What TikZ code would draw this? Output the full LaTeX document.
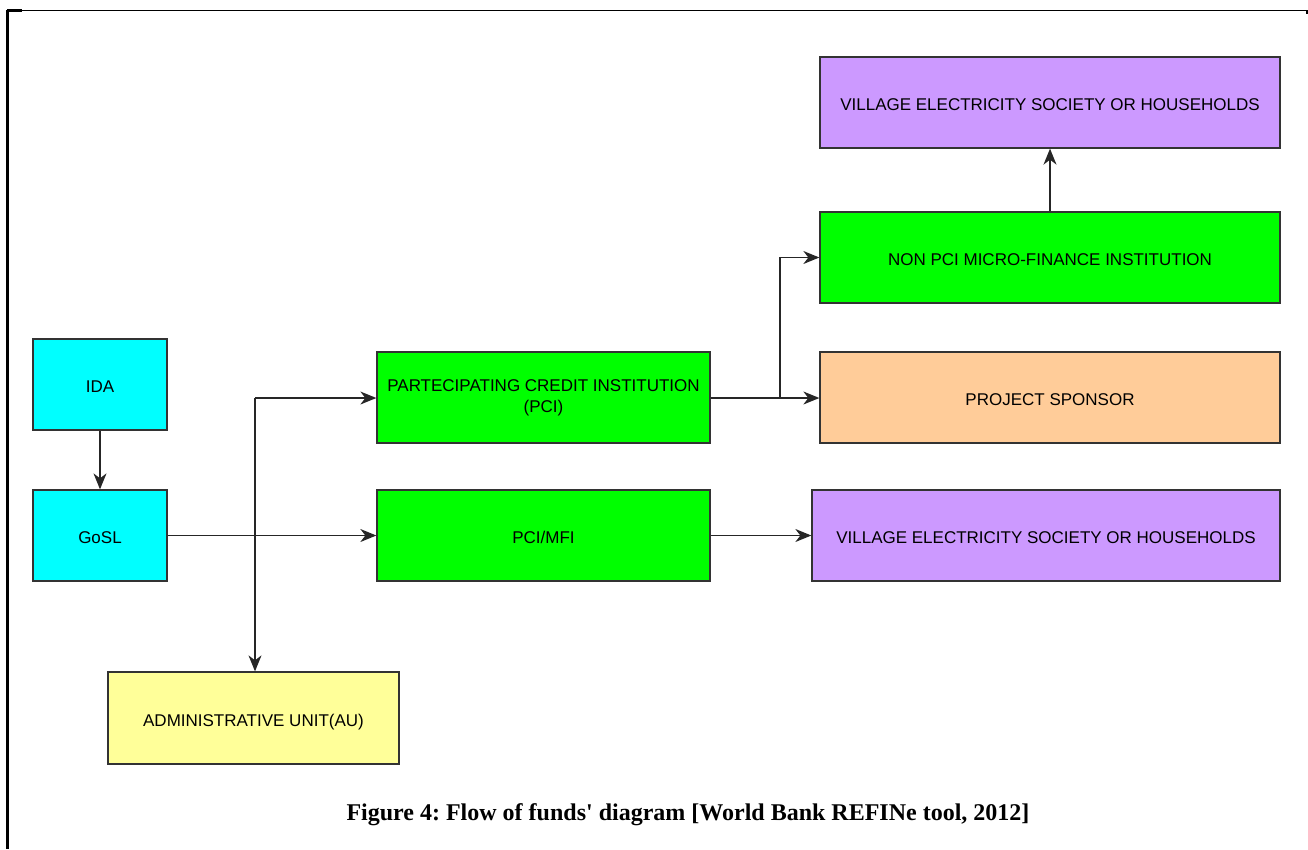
\documentclass[tikz,border=0pt]{standalone}
\usepackage{fontspec}
\setmainfont{Liberation Sans}
\newfontfamily\capfont{Liberation Serif}
\usetikzlibrary{arrows.meta}
\definecolor{cyanbox}{HTML}{00FFFF}
\definecolor{greenbox}{HTML}{00FF00}
\definecolor{purplebox}{HTML}{CC99FF}
\definecolor{peachbox}{HTML}{FFCC99}
\definecolor{yellowbox}{HTML}{FFFF99}
\definecolor{edge}{HTML}{333333}
\begin{document}
\begin{tikzpicture}[x=1pt,y=-1pt,
  box/.style={draw=edge, line width=1.3pt, minimum height=91pt, inner sep=2pt,
    align=center, font=\fontsize{17}{21}\selectfont, text=black, text height=16pt, text depth=0pt},
  conn/.style={draw=black!85, line width=1.4pt, -{Stealth[length=16pt,width=13pt,inset=5pt]}}]
\useasboundingbox (0,0) rectangle (1308,849);
% frame
\draw[line width=1.2pt] (7,10.5) -- (1307,10.5) -- (1307,14);
\draw[line width=2.2pt] (7.5,10) -- (7.5,849);
\draw[line width=2.5pt] (7,10.5) -- (22,10.5);
% boxes
\node[box, fill=cyanbox, minimum width=134pt] (ida) at (100,384.5) {IDA};
\node[box, fill=cyanbox, minimum width=134pt] (gosl) at (100,535.5) {GoSL};
\node[box, fill=greenbox, minimum width=333pt, text height=, text depth=] (pci) at (543.5,397.5) {PARTECIPATING CREDIT INSTITUTION\\(PCI)};
\node[box, fill=greenbox, minimum width=333pt] (mfi) at (543.5,535.5) {PCI/MFI};
\node[box, fill=yellowbox, minimum width=291pt, minimum height=92pt] (au) at (253.5,718) {ADMINISTRATIVE UNIT(AU)};
\node[box, fill=purplebox, minimum width=460pt] (vestop) at (1050,102.5) {VILLAGE ELECTRICITY SOCIETY OR HOUSEHOLDS};
\node[box, fill=greenbox, minimum width=460pt] (nonpci) at (1050,257.5) {NON PCI MICRO-FINANCE INSTITUTION};
\node[box, fill=peachbox, minimum width=460pt] (ps) at (1050,397.5) {PROJECT SPONSOR};
\node[box, fill=purplebox, minimum width=468pt] (vesbot) at (1046,535.5) {VILLAGE ELECTRICITY SOCIETY OR HOUSEHOLDS};
% junctions
\coordinate (j1) at (255,398);
\coordinate (j2) at (780,398);
% connectors
\draw[conn] (ida) -- (gosl);
\draw[conn] (gosl) -- (mfi);
\draw[conn] (j1) -- (j1 |- au.north);
\draw[conn] (j1) -- (j1 -| pci.west);
\draw[conn] (pci.east |- j2) -- (j2 -| ps.west);
\draw[conn] (j2) |- (nonpci.west);
\draw[conn] (nonpci) -- (vestop);
\draw[conn] (mfi) -- (vesbot);
% caption
\node[font=\capfont\bfseries\fontsize{24}{28}\selectfont] (cap) at (688,815) {\frenchspacing Figure 4: Flow of funds' diagram [World Bank REFINe tool, 2012]};
\end{tikzpicture}
\end{document}
